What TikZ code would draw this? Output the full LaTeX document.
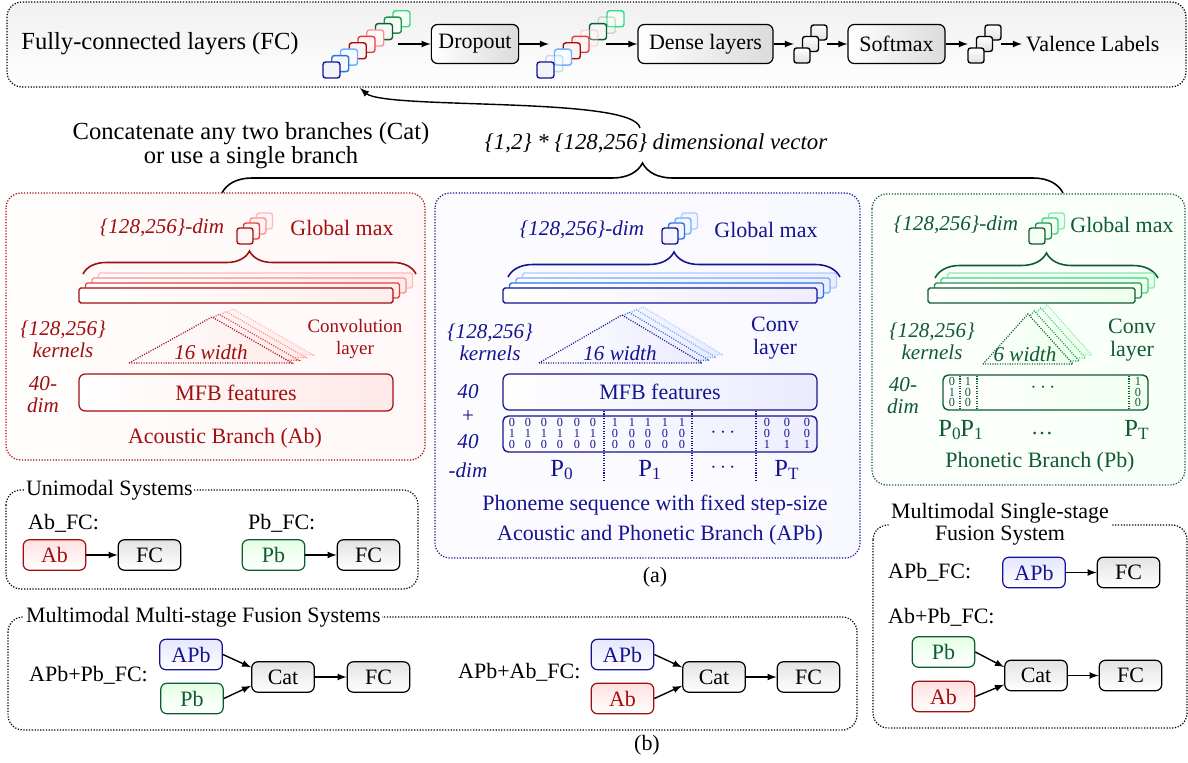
\documentclass[tikz,border=0pt]{standalone}
\usepackage{fontspec}
\setmainfont{Liberation Serif}
\usepackage{tikz}
\usetikzlibrary{arrows}
\usetikzlibrary{calc}
\usetikzlibrary{decorations.pathreplacing}

\definecolor{abred}{RGB}{160,15,15}
\definecolor{abmid}{RGB}{235,60,60}
\definecolor{ablight}{RGB}{255,140,140}
\definecolor{apbnavy}{RGB}{20,20,145}
\definecolor{apbmid}{RGB}{40,115,225}
\definecolor{apblight}{RGB}{110,175,255}
\definecolor{pbgreen}{RGB}{15,90,50}
\definecolor{pbmid}{RGB}{35,145,80}
\definecolor{pblight}{RGB}{50,220,120}

\newcommand{\fsBig}{\fontsize{14}{12.5}\selectfont}
\newcommand{\fsMid}{\fontsize{12.5}{13.5}\selectfont}
\newcommand{\fsLab}{\fontsize{12}{12.5}\selectfont}
\newcommand{\fsSmall}{\fontsize{10.8}{12}\selectfont}
\newcommand{\fsTiny}{\fontsize{7}{8}\selectfont}
\newcommand{\fsP}{\fontsize{14}{15}\selectfont}

\tikzset{
  dotbox/.style={dash pattern=on 0.7pt off 0.9pt, line width=0.7pt, rounded corners=0.3cm},
  blockgray/.style={draw, rounded corners=3.5pt, line width=0.7pt, left color=white, right color=gray!28, minimum height=0.78cm, inner xsep=4pt, font=\fsMid},
  sysnode/.style={draw, rounded corners=3.5pt, line width=0.7pt, minimum width=1.25cm, minimum height=0.61cm, inner sep=1pt, font=\fsMid},
  fcnode/.style={sysnode, top color=gray!22, bottom color=white},
  abnode/.style={sysnode, draw=abred, text=abred, top color=red!12, bottom color=white},
  pbnode/.style={sysnode, draw=pbgreen, text=pbgreen, top color=green!10, bottom color=white},
  apbnode/.style={sysnode, draw=apbnavy, text=apbnavy, top color=blue!10, bottom color=white},
  sq/.style={rounded corners=1.5pt, line width=0.8pt},
  fmap/.style={rounded corners=1pt, line width=0.8pt},
  kern/.style={dash pattern=on 0.6pt off 0.8pt, line width=0.7pt},
  bracetip/.style={decorate, decoration={brace, amplitude=#1}, line width=0.9pt},
  conn/.style={->, >=latex, line width=0.8pt},
  digit/.style={font=\fsTiny, inner sep=0pt},
  titlebox/.style={fill=white, inner sep=1pt, font=\fsMid},
}

\begin{document}
\begin{tikzpicture}[x=0.02cm, y=-0.02cm]
\useasboundingbox (0,0) rectangle (1188,763);

% fully-connected layers
\draw[dotbox, top color=gray!12, bottom color=white] (7,2) rectangle (1186,87);
\node[font=\fsBig] (fctitle) at (160,44) {Fully-connected layers (FC)};
\foreach \i/\c in {8/pblight,7/pbmid,6/pbgreen,5/ablight,4/abmid,3/abred,2/apblight,1/apbmid,0/apbnavy}
  \draw[sq, draw=\c, fill=\c!5] (323+\i*8.75,78-\i*6.4) rectangle +(17,-16);
\coordinate (stkAout) at (398,44);
\node[blockgray, minimum width=1.68cm] (drop) at (475,44) {Dropout};
\foreach \i/\c/\o in {8/pblight/1,7/pbmid/0.25,6/pbgreen/1,5/ablight/0.3,4/abmid/1,3/abred/1,2/apblight/1,1/apbmid/0.25,0/apbnavy/1}
  \draw[sq, draw=\c, fill=\c!5, opacity=\o] (537+\i*8.75,78-\i*6.4) rectangle +(17,-16);
\coordinate (stkBin) at (549,44);
\coordinate (stkBout) at (606,44);
\node[blockgray, minimum width=2.7cm] (dense) at (705.5,44) {Dense layers};
\foreach \i in {2,1,0}
  \draw[sq, top color=white, bottom color=gray!25] (794+\i*8.5,63-\i*11.5) rectangle +(16,-15);
\coordinate (stkCin) at (794,44);
\coordinate (stkCout) at (827,44);
\node[blockgray, minimum width=1.94cm] (soft) at (896.5,44) {Softmax};
\foreach \i in {2,1,0}
  \draw[sq, top color=white, bottom color=gray!25] (968+\i*8.5,63-\i*11.5) rectangle +(16,-15);
\coordinate (stkDin) at (968,44);
\coordinate (stkDout) at (1001,44);
\node[font=\fsMid, anchor=west, inner sep=2pt] (valence) at (1022,44) {Valence Labels};
\draw[conn] (stkAout) -- (drop.west);
\draw[conn] (drop.east) -- (stkBin);
\draw[conn] (stkBout) -- (dense.west);
\draw[conn] (dense.east) -- (stkCin);
\draw[conn] (stkCout) -- (soft.west);
\draw[conn] (soft.east) -- (stkDin);
\draw[conn] (stkDout) -- (valence.west);

% concatenation
\node[font=\fsBig, align=center] (cattxt) at (251,146) {Concatenate any two branches (Cat)\\or use a single branch};
\node[font=\fontsize{13}{14}\selectfont\itshape] (vectxt) at (656,143) {\{1,2\} * \{128,256\} dimensional vector};
\coordinate (vecsrc) at (640,128);
\coordinate (fcin) at (360,88);
\draw[conn] (vecsrc) .. controls (634,96) and (385,110) .. (fcin);
\draw[bracetip=0.6cm] (222,193) -- (1063,193);

% acoustic branch
\draw[dotbox, abred, left color=red!1, right color=red!3] (6,193) rectangle (425,460);
\node[abred, font=\fsLab\itshape] (abdim) at (162,228) {\{128,256\}-dim};
\foreach \i/\c in {3/ablight!60,2/ablight,1/abmid,0/abred}
  \draw[sq, draw=\c, fill=red!4] (237+\i*6.5,244-\i*5) rectangle +(16,-16);
\node[abred, font=\fsMid] (abmax) at (342,228) {Global max};
\draw[bracetip=0.46cm, abred] (83,274) -- (416,274);
\foreach \i/\c in {3/ablight!60,2/ablight,1/abmid,0/abred}
  \draw[fmap, draw=\c, left color=white, right color=red!7] (79+\i*6.5,303-\i*5) rectangle +(314,-15);
\foreach \i/\c in {3/ablight!60,2/ablight,1/abmid,0/abred}
  \draw[kern, draw=\c, left color=white, right color=red!8] (129+\i*7,363-\i*2.7) -- (212+\i*7,317-\i*2.7) -- (292+\i*7,363-\i*2.7) -- cycle;
\node[abred, font=\fsLab\itshape] (abwid) at (211,352) {16 width};
\node[abred, font=\fsLab\itshape, align=center] (abkern) at (63,339) {\{128,256\}\\kernels};
\node[abred, font=\fsSmall, align=center] (abconv) at (355,339) {Convolution\\layer};
\node[abred, font=\fsLab\itshape, align=center] (abforty) at (43,395) {40-\\dim};
\node[draw=abred, text=abred, line width=0.7pt, rounded corners=3.5pt, left color=white, right color=red!9, minimum width=6.28cm, minimum height=0.74cm, font=\fsMid] (abmfb) at (236,392.5) {MFB features};
\node[abred, font=\fsMid] (abname) at (225,438) {Acoustic Branch (Ab)};

% acoustic and phonetic branch
\draw[dotbox, apbnavy, left color=blue!1, right color=blue!3] (435,193) rectangle (860,558);
\node[apbnavy, font=\fsLab\itshape] (apbdim) at (582,230) {\{128,256\}-dim};
\foreach \i/\c in {3/apblight!60,2/apblight,1/apbmid,0/apbnavy}
  \draw[sq, draw=\c, fill=blue!4] (662+\i*6.5,244-\i*5) rectangle +(16,-16);
\node[apbnavy, font=\fsMid] (apbmax) at (766,230) {Global max};
\draw[bracetip=0.5cm, apbnavy] (508,277) -- (840,277);
\foreach \i/\c in {3/apblight!60,2/apblight,1/apbmid,0/apbnavy}
  \draw[fmap, draw=\c, left color=white, right color=blue!7] (503+\i*6.5,303-\i*5) rectangle +(314,-15);
\foreach \i/\c in {3/apblight!60,2/apblight,1/apbmid,0/apbnavy}
  \draw[kern, draw=\c, left color=white, right color=blue!8] (539+\i*7,363-\i*2.7) -- (622+\i*7,315-\i*2.7) -- (702+\i*7,363-\i*2.7) -- cycle;
\node[apbnavy, font=\fsLab\itshape] (apbwid) at (620,353) {16 width};
\node[apbnavy, font=\fsLab\itshape, align=center] (apbkern) at (490,342) {\{128,256\}\\kernels};
\node[apbnavy, font=\fsMid, align=center] (apbconv) at (775,338) {Conv\\layer};
\node[draw=apbnavy, text=apbnavy, line width=0.7pt, rounded corners=3.5pt, left color=white, right color=blue!8, minimum width=6.28cm, minimum height=0.72cm, font=\fsMid] (apbmfb) at (660,392) {MFB features};
\node[apbnavy, font=\fsLab\itshape] (apbfa) at (468,392) {40};
\node[apbnavy, font=\fsLab] (apbplus) at (468,417) {+};
\node[apbnavy, font=\fsLab\itshape] (apbfb) at (468,442) {40};
\node[apbnavy, font=\fsLab\itshape] (apbfc) at (468,470) {-dim};
\draw[apbnavy, line width=0.8pt, rounded corners=3pt, left color=white, right color=blue!7] (503,416) rectangle (817,452);
\foreach \x in {604,692,756}
  \draw[kern, apbnavy] (\x,411) -- (\x,482);
\foreach \x in {512,528,544,560,577,593} {
  \node[digit, apbnavy] (apbo\x) at (\x,422) {0};
  \node[digit, apbnavy] (apbt\x) at (\x,433) {1};
  \node[digit, apbnavy] (apbh\x) at (\x,444) {0};
}
\foreach \x in {615,632,648,665,682} {
  \node[digit, apbnavy] (apbo\x) at (\x,422) {1};
  \node[digit, apbnavy] (apbt\x) at (\x,433) {0};
  \node[digit, apbnavy] (apbh\x) at (\x,444) {0};
}
\foreach \x in {767,787,807} {
  \node[digit, apbnavy] (apbo\x) at (\x,422) {0};
  \node[digit, apbnavy] (apbt\x) at (\x,433) {0};
  \node[digit, apbnavy] (apbh\x) at (\x,444) {1};
}
\node[apbnavy, font=\fsMid] (apbdots) at (723,433) {$\cdots$};
\node[apbnavy, font=\fsP] (apbpa) at (562,470) {P\textsubscript{0}};
\node[apbnavy, font=\fsP] (apbpb) at (650,470) {P\textsubscript{1}};
\node[apbnavy, font=\fsMid] (apbpd) at (723,468) {$\cdots$};
\node[apbnavy, font=\fsP] (apbpt) at (787,470) {P\textsubscript{T}};
\node[apbnavy, font=\fsMid, fill=white, fill opacity=0.4, text opacity=1] (apbseq) at (655,505) {Phoneme sequence with fixed step-size};
\node[apbnavy, font=\fsMid] (apbname) at (660,535) {Acoustic and Phonetic Branch (APb)};

% phonetic branch
\draw[dotbox, pbgreen, left color=green!1, right color=green!3] (872,194) rectangle (1185,485);
\node[pbgreen, font=\fsLab\itshape] (pbdim) at (956,225) {\{128,256\}-dim};
\foreach \i/\c in {3/pblight!60,2/pblight,1/pbmid,0/pbgreen}
  \draw[sq, draw=\c, fill=green!4] (1029+\i*6.5,244-\i*5) rectangle +(16,-16);
\node[pbgreen, font=\fsMid] (pbmax) at (1122,225) {Global max};
\draw[bracetip=0.5cm, pbgreen] (935,278) -- (1158,278);
\foreach \i/\c in {3/pblight!60,2/pblight,1/pbmid,0/pbgreen}
  \draw[fmap, draw=\c, left color=white, right color=green!7] (928+\i*6.5,303-\i*5) rectangle +(207,-15);
\foreach \i/\c in {3/pblight!60,2/pblight,1/pbmid,0/pbgreen}
  \draw[kern, draw=\c, left color=white, right color=green!8] (983+\i*6.3,364-\i*3) -- (1028+\i*6.3,314-\i*3) -- (1073+\i*6.3,364-\i*3) -- cycle;
\node[pbgreen, font=\fsLab\itshape] (pbwid) at (1025,354) {6 width};
\node[pbgreen, font=\fsLab\itshape, align=center] (pbkern) at (932,341) {\{128,256\}\\kernels};
\node[pbgreen, font=\fsMid, align=center] (pbconv) at (1132,340) {Conv\\layer};
\node[pbgreen, font=\fsLab\itshape, align=center] (pbforty) at (903,396) {40-\\dim};
\draw[pbgreen, line width=0.8pt, rounded corners=3pt, left color=white, right color=green!6] (943,375) rectangle (1148,410);
\foreach \x in {960,977,1129}
  \draw[kern, pbgreen] (\x,376) -- (\x,409);
\foreach \x/\a/\b/\c in {952/0/1/0,968/1/0/0,1138/1/0/0} {
  \node[digit, pbgreen] (pbo\x) at (\x,381) {\a};
  \node[digit, pbgreen] (pbt\x) at (\x,392) {\b};
  \node[digit, pbgreen] (pbh\x) at (\x,402) {\c};
}
\node[pbgreen, font=\fsMid] (pbdots) at (1043,388) {$\cdots$};
\node[pbgreen, font=\fsP] (pbpa) at (950,430) {P\textsubscript{0}};
\node[pbgreen, font=\fsP] (pbpb) at (972,430) {P\textsubscript{1}};
\node[pbgreen, font=\fsMid] (pbpd) at (1042,434) {\dots};
\node[pbgreen, font=\fsP] (pbpt) at (1137,430) {P\textsubscript{T}};
\node[pbgreen, font=\fsMid] (pbname) at (1040,462) {Phonetic Branch (Pb)};

\node[font=\fsMid] (capa) at (655,577) {(a)};

% unimodal systems
\draw[dotbox] (6,490) rectangle (418,589);
\node[titlebox, anchor=west] (unititle) at (24,490) {Unimodal Systems};
\node[font=\fsMid, anchor=west] (abfctxt) at (22,523) {Ab\_FC:};
\node[font=\fsMid, anchor=west] (pbfctxt) at (242,523) {Pb\_FC:};
\node[abnode] (uab) at (54.5,555) {Ab};
\node[fcnode] (ufca) at (149.5,555) {FC};
\node[pbnode] (upb) at (273.5,555) {Pb};
\node[fcnode] (ufcb) at (368.5,555) {FC};
\draw[conn] (uab) -- (ufca);
\draw[conn] (upb) -- (ufcb);

% multimodal multi-stage fusion
\draw[dotbox] (8,617) rectangle (857,730);
\node[titlebox, anchor=west] (multititle) at (24,617) {Multimodal Multi-stage Fusion Systems};
\node[font=\fsMid, anchor=west] (apbpbtxt) at (23,675) {APb+Pb\_FC:};
\node[apbnode] (mapba) at (191,654.5) {APb};
\node[pbnode] (mpb) at (192,698.5) {Pb};
\node[fcnode] (mcata) at (283,677) {Cat};
\node[fcnode] (mfca) at (378.5,677) {FC};
\draw[conn] (mapba.east) -- ([yshift=5.5pt]mcata.west);
\draw[conn] (mpb.east) -- ([yshift=-5pt]mcata.west);
\draw[conn] (mcata) -- (mfca);
\node[font=\fsMid, anchor=west] (apbabtxt) at (452,672) {APb+Ab\_FC:};
\node[apbnode] (mapbb) at (622.5,654.5) {APb};
\node[abnode] (mab) at (622.5,698.5) {Ab};
\node[fcnode] (mcatb) at (714,677) {Cat};
\node[fcnode] (mfcb) at (808.5,677) {FC};
\draw[conn] (mapbb.east) -- ([yshift=5.5pt]mcatb.west);
\draw[conn] (mab.east) -- ([yshift=-5pt]mcatb.west);
\draw[conn] (mcatb) -- (mfcb);
\node[font=\fsMid] (capb) at (647,745) {(b)};

% multimodal single-stage fusion
\draw[dotbox] (873,525) rectangle (1187,728);
\node[titlebox, align=center, font=\fontsize{12.5}{12.5}\selectfont] (singletitle) at (1000,524) {Multimodal Single-stage\\Fusion System};
\node[font=\fsMid, anchor=west] (apbfctxt) at (882,572) {APb\_FC:};
\node[apbnode] (sapb) at (1034,572.5) {APb};
\node[fcnode] (sfca) at (1128.5,572.5) {FC};
\draw[conn] (sapb) -- (sfca);
\node[font=\fsMid, anchor=west] (abpbtxt) at (882,617) {Ab+Pb\_FC:};
\node[pbnode] (spb) at (943.5,652) {Pb};
\node[abnode] (sab) at (943.5,696.5) {Ab};
\node[fcnode] (scat) at (1036,675.5) {Cat};
\node[fcnode] (sfcb) at (1130.5,675.5) {FC};
\draw[conn] (spb.east) -- ([yshift=4.8pt]scat.west);
\draw[conn] (sab.east) -- ([yshift=-5.2pt]scat.west);
\draw[conn] (scat) -- (sfcb);
\end{tikzpicture}
\end{document}
